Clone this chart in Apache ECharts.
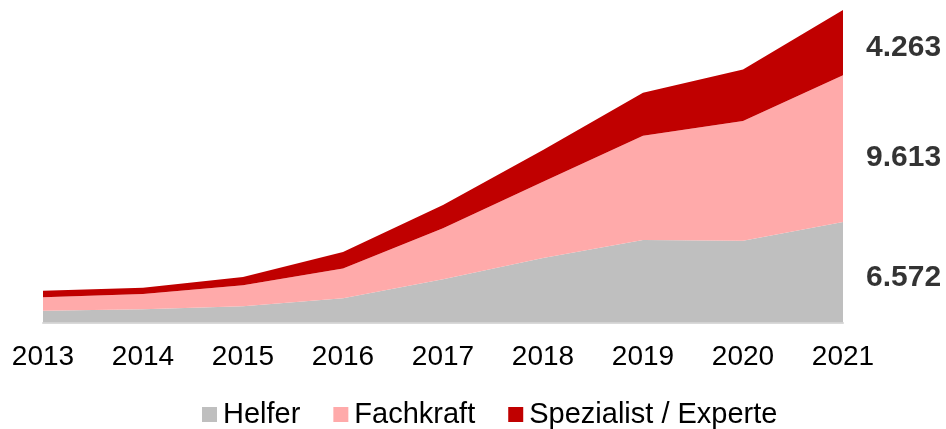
<!DOCTYPE html>
<html>
<head>
<meta charset="utf-8">
<script src="https://cdn.jsdelivr.net/npm/echarts@6/dist/echarts.min.js"></script>
<style>html,body{margin:0;padding:0;background:#fff;}#c{width:946px;height:429px;}</style>
</head>
<body>
<div id="c"></div>
<script>
const years = ['2013','2014','2015','2016','2017','2018','2019','2020','2021'];
const helfer = [770, 860, 1070, 1580, 2830, 4220, 5400, 5350, 6572];
const fachkraft = [880, 1000, 1370, 1960, 3335, 4990, 6821, 7828, 9613];
const spezialist = [430, 410, 540, 1080, 1520, 2070, 2810, 3380, 4263];
const names = ['Helfer', 'Fachkraft', 'Spezialist / Experte'];
const colors = ['#bfbfbf', '#ffaaaa', '#c00000'];

const last = years.length - 1;
const fmt = v => v.toLocaleString('de-DE');
const h = helfer[last], f = fachkraft[last], s = spezialist[last];
const labelPts = [
  {value: [last, h / 2], raw: h, dy: 5},
  {value: [last, h + f / 2], raw: f, dy: 9},
  {value: [last, h + f + s / 2], raw: s, dy: 5}
];

function area(name, data, color) {
  return {
    name, type: 'line', stack: 'total', data,
    symbol: 'none', smooth: false,
    lineStyle: {width: 0}, itemStyle: {color},
    areaStyle: {color, opacity: 1},
    emphasis: {disabled: true}
  };
}

const chart = echarts.init(document.getElementById('c'));
chart.setOption({
  animation: false,
  grid: {left: 43, right: 103, top: 10, bottom: 106.5},
  legend: {
    data: names, left: 202, top: 400, padding: 0,
    icon: 'rect', itemWidth: 15, itemHeight: 15, itemGap: 33,
    textStyle: {fontFamily: 'Liberation Sans', fontSize: 29, color: '#000', lineHeight: 29, padding: [0, 0, 0, 1]}
  },
  xAxis: {
    type: 'category', data: years, boundaryGap: false,
    axisLine: {lineStyle: {color: '#d9d9d9', width: 2}},
    axisTick: {show: false},
    axisLabel: {fontFamily: 'Liberation Sans', fontSize: 28, color: '#000', margin: 21}
  },
  yAxis: {type: 'value', min: 0, max: 20448, show: false, splitLine: {show: false}},
  series: [
    area(names[0], helfer, colors[0]),
    area(names[1], fachkraft, colors[1]),
    area(names[2], spezialist, colors[2]),
    {
      type: 'scatter', symbolSize: 0, silent: true,
      data: labelPts.map(p => ({
        value: p.value,
        label: {
          show: true, position: 'right', distance: 23, offset: [0, p.dy],
          formatter: fmt(p.raw),
          fontFamily: 'Liberation Sans', fontWeight: 'bold', fontSize: 30, color: '#000'
        }
      }))
    }
  ]
});
</script>
</body>
</html>
